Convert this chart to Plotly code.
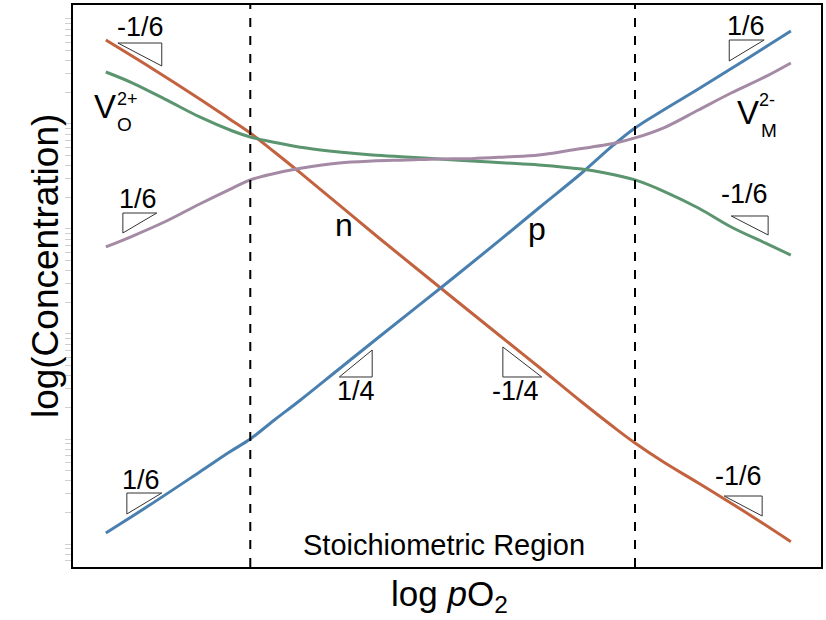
import math
import plotly.graph_objects as go

# ---------------- data (log pO2 , log concentration) ----------------
x_n = [-9.94, -8.63, -7.14, -6.25, -5.63, -4.91, -4.17, -2.98, -1.79, 0.05, 1.79, 2.98, 4.26, 5.21, 5.85, 6.70, 7.74, 9.23, 10.50]
y_n = [-0.200, -0.457, -0.762, -0.952, -1.086, -1.267, -1.457, -1.771, -2.086, -2.562, -3.010, -3.314, -3.648, -3.886, -4.038, -4.219, -4.419, -4.714, -4.978]

x_p = [-9.94, -8.63, -7.14, -6.25, -5.63, -4.91, -4.17, -2.98, -1.79, 0.05, 1.79, 2.98, 4.26, 5.21, 5.85, 6.70, 7.74, 9.23, 10.50]
y_p = [-4.895, -4.629, -4.314, -4.124, -4.000, -3.819, -3.638, -3.333, -3.029, -2.562, -2.114, -1.800, -1.467, -1.200, -1.038, -0.867, -0.667, -0.371, -0.114]

x_vo = [-9.94, -9.14, -8.13, -7.14, -6.16, -5.63, -4.97, -3.96, -2.98, -1.99, -0.98, 0.0,
        0.98, 1.99, 2.98, 4.26, 4.97, 5.85, 6.76, 7.74, 8.72, 9.73, 10.50]
y_vo = [-0.505, -0.610, -0.771, -0.933, -1.067, -1.124, -1.171, -1.229, -1.267, -1.295, -1.314, -1.333,
        -1.352, -1.371, -1.390, -1.429, -1.467, -1.533, -1.648, -1.800, -1.981, -2.133, -2.248]

x_vm = [-9.94, -9.14, -8.13, -7.14, -6.16, -5.63, -4.97, -4.17, -2.98, -1.99, -0.98, 0.0,
        0.98, 1.99, 2.98, 3.96, 5.27, 5.85, 6.76, 7.74, 8.72, 9.73, 10.50]
y_vm = [-2.171, -2.067, -1.924, -1.762, -1.610, -1.533, -1.476, -1.424, -1.371, -1.352, -1.343, -1.333,
        -1.330, -1.314, -1.295, -1.248, -1.181, -1.133, -1.029, -0.867, -0.705, -0.552, -0.419]

region_bounds = [-5.63, 5.85]
x_range = [-10.92, 11.40]
y_range = [-5.219, 0.133]

colors = {"n": "#c2623f", "p": "#4a80b0", "vo": "#5b9570", "vm": "#a48aa4"}

FONT = "Liberation Sans, Arial, Helvetica, sans-serif"

fig = go.Figure()
for xs, ys, key in [(x_n, y_n, "n"), (x_p, y_p, "p"), (x_vo, y_vo, "vo"), (x_vm, y_vm, "vm")]:
    fig.add_trace(go.Scatter(x=xs, y=ys, mode="lines",
                             line=dict(color=colors[key], width=3, shape="spline", smoothing=1.0),
                             showlegend=False, hoverinfo="skip"))

# faint log-style ticks on y axis
tickvals = []
for d in range(-6, 1):
    for k in range(1, 10):
        v = d + math.log10(k)
        if y_range[0] <= v <= y_range[1]:
            tickvals.append(v)

# plot-area geometry (pixels) used only to place decorations
L, R, T, B = 73, 823, 5, 567
W, H = 826, 620

def PX(xp):
    return (xp - L) / (R - L)

def PY(yp):
    return (B - yp) / (B - T)

shapes = []
for xb in region_bounds:
    shapes.append(dict(type="line", xref="x", yref="paper", x0=xb, x1=xb, y0=0, y1=1,
                       line=dict(color="black", width=2, dash="dash")))

def tri(pts):
    p = "M " + " L ".join(f"{PX(a):.5f},{PY(b):.5f}" for a, b in pts) + " Z"
    return dict(type="path", xref="paper", yref="paper", path=p, line=dict(color="#333333", width=1))

# slope triangles (pixel vertices)
shapes += [
    tri([(118, 43), (162, 43), (162, 66)]),      # n left -1/6
    tri([(123, 213), (157, 213), (123, 233)]),   # V_M left 1/6
    tri([(127, 493), (162, 493), (127, 514)]),   # p left 1/6
    tri([(340, 377), (373, 377), (373, 350)]),   # p 1/4
    tri([(504, 347), (504, 377), (543, 377)]),   # n -1/4
    tri([(731, 40), (766, 40), (731, 61)]),      # p right 1/6
    tri([(733, 216), (770, 216), (770, 235)]),   # V_O right -1/6
    tri([(726, 496), (764, 496), (764, 516)]),   # n right -1/6
]

def ann(text, xp, yp, size, **kw):
    return dict(text=text, xref="paper", yref="paper", x=PX(xp), y=PY(yp), showarrow=False,
                font=dict(family=FONT, size=size, color="black"), xanchor="center", yanchor="middle", **kw)

annotations = [
    ann("-1/6", 141, 27, 27),
    ann("1/6", 138, 199, 27),
    ann("1/6", 141, 480, 27),
    ann("1/4", 357, 391, 27),
    ann("-1/4", 517, 391, 27),
    ann("1/6", 748, 26, 27),
    ann("-1/6", 746, 194, 27),
    ann("-1/6", 740, 476, 27),
    ann("n", 345, 225, 32),
    ann("p", 538, 229, 32),
    ann("V", 105, 107, 33),
    ann("2+", 128, 99, 18),
    ann("O", 125, 125, 19),
    ann("V", 750, 112, 33),
    ann("2-", 769, 100, 18),
    ann("M", 771, 130, 19),
    ann("Stoichiometric Region", 445, 545, 29),
    # axis titles
    dict(text="log(Concentration)", xref="paper", yref="paper", x=PX(45), y=PY(266), showarrow=False,
         textangle=-90, font=dict(family=FONT, size=37, color="black"), xanchor="center", yanchor="middle"),
    dict(text="log <i>p</i>O<sub>2</sub>", xref="paper", yref="paper", x=PX(451), y=PY(596), showarrow=False,
         font=dict(family=FONT, size=35, color="black"), xanchor="center", yanchor="middle"),
]

fig.update_layout(
    width=W, height=H,
    margin=dict(l=L, r=W - R, t=T, b=H - B, pad=0),
    paper_bgcolor="white", plot_bgcolor="white",
    shapes=shapes, annotations=annotations,
    xaxis=dict(range=x_range, showgrid=False, zeroline=False, showticklabels=False, ticks="",
               showline=True, mirror=True, linecolor="black", linewidth=2),
    yaxis=dict(range=y_range, showgrid=False, zeroline=False, showticklabels=False,
               tickmode="array", tickvals=tickvals, ticks="outside", ticklen=6, tickwidth=1, tickcolor="#cfcfcf",
               showline=True, mirror=True, linecolor="black", linewidth=2),
)

fig.write_html("out.html")
